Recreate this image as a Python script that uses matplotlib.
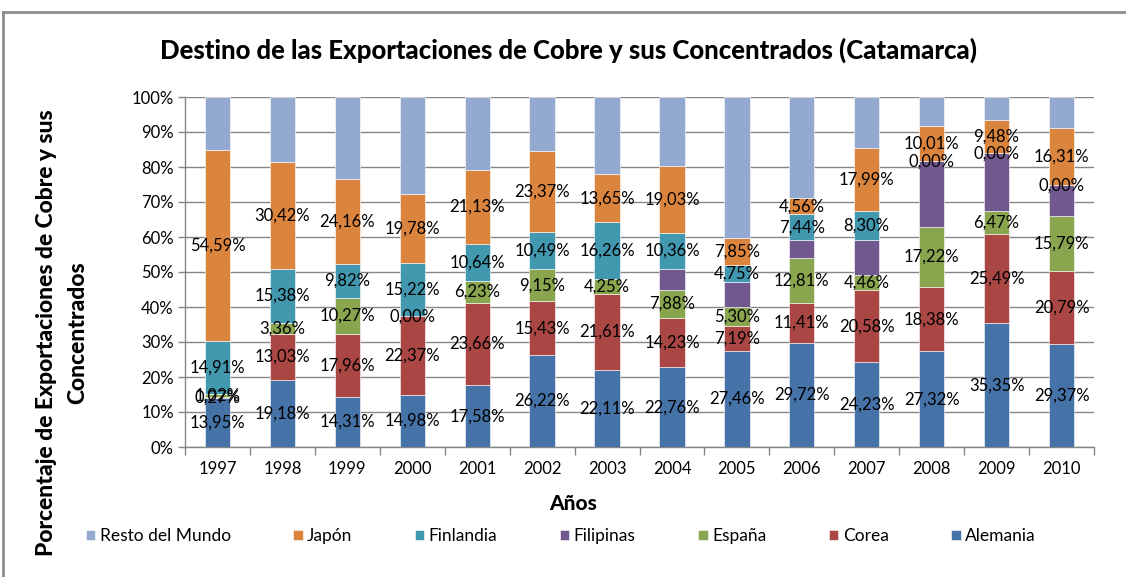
import numpy as np
import matplotlib
matplotlib.use("Agg")
import matplotlib.pyplot as plt
from matplotlib.lines import Line2D
from matplotlib.ticker import FuncFormatter

plt.rcParams['font.family'] = ['Lato', 'DejaVu Sans']

years = ["1997", "1998", "1999", "2000", "2001", "2002", "2003",
         "2004", "2005", "2006", "2007", "2008", "2009", "2010"]

# valores en % (Filipinas y Resto estimados, sin etiqueta en el original)
alemania = [13.95, 19.18, 14.31, 14.98, 17.58, 26.22, 22.11, 22.76, 27.46, 29.72, 24.23, 27.32, 35.35, 29.37]
corea = [0.27, 13.03, 17.96, 22.37, 23.66, 15.43, 21.61, 14.23, 7.19, 11.41, 20.58, 18.38, 25.49, 20.79]
espana = [1.02, 3.36, 10.27, 0.00, 6.23, 9.15, 4.25, 7.88, 5.30, 12.81, 4.46, 17.22, 6.47, 15.79]
filipinas = [0, 0, 0, 0, 0, 0, 0, 6.0, 7.2, 5.1, 9.9, 18.7, 16.6, 8.8]
finlandia = [14.91, 15.38, 9.82, 15.22, 10.64, 10.49, 16.26, 10.36, 4.75, 7.44, 8.30, 0.00, 0.00, 0.00]
japon = [54.59, 30.42, 24.16, 19.78, 21.13, 23.37, 13.65, 19.03, 7.85, 4.56, 17.99, 10.01, 9.48, 16.31]
resto = [15.26, 18.63, 23.48, 27.65, 20.76, 15.34, 22.12, 19.74, 40.25, 28.96, 14.54, 8.37, 6.61, 8.94]

series = [
    ("Alemania", alemania, "#4572A7", True),
    ("Corea", corea, "#AA4643", True),
    ("España", espana, "#89A54E", True),
    ("Filipinas", filipinas, "#71588F", False),
    ("Finlandia", finlandia, "#4198AF", True),
    ("Japón", japon, "#DB843D", True),
    ("Resto del Mundo", resto, "#93A9CF", False),
]

W, H = 1126, 577
fig = plt.figure(figsize=(W / 100, H / 100), dpi=100)
ax = fig.add_axes([185 / W, 1 - 447 / H, 909 / W, 350 / H])

x = np.arange(len(years))
bottom = np.zeros(len(years))
handles = {}
for name, vals, col, lab in series:
    vals = np.array(vals, dtype=float)
    bars = ax.bar(x, vals, 0.39, bottom=bottom, color=col, edgecolor="white",
                  linewidth=0.4, zorder=3, label=name)
    handles[name] = bars
    if lab:
        txt = [("%.2f%%" % v).replace(".", ",") for v in vals]
        ax.bar_label(bars, labels=txt, label_type="center", fontsize=12,
                     color="black", zorder=5)
    bottom += vals

ax.set_xlim(-0.5, len(years) - 0.5)
ax.set_ylim(0, 100)
ax.set_yticks(np.arange(0, 101, 10))
ax.yaxis.set_major_formatter(FuncFormatter(lambda v, p: "%d%%" % v))
ax.set_xticks(x)
ax.set_xticklabels(years)
ax.set_xticks(np.arange(-0.5, len(years), 1), minor=True)
ax.tick_params(axis="x", which="major", length=0, pad=10, labelsize=12)
ax.tick_params(axis="x", which="minor", length=6, color="#868686", width=1)
ax.tick_params(axis="y", length=5, color="#868686", width=1, labelsize=12, pad=3)
ax.grid(axis="y", color="#868686", linewidth=1, zorder=0)
for s in ["top", "right"]:
    ax.spines[s].set_visible(False)
for s in ["left", "bottom"]:
    ax.spines[s].set_color("#868686")
    ax.spines[s].set_linewidth(1)

fig.text(568 / W, 1 - 50 / H, "Destino de las Exportaciones de Cobre y sus Concentrados (Catamarca)",
         ha="center", va="center", fontsize=18.5, fontweight="black")
fig.text(573 / W, 1 - 503 / H, "Años", ha="center", va="center", fontsize=15, fontweight="black")
fig.text(62 / W, 1 - 333 / H, "Porcentaje de Exportaciones de Cobre y sus\nConcentrados",
         ha="center", va="center", rotation=90, fontsize=16.5, fontweight="black",
         multialignment="center", linespacing=1.6)

order = ["Resto del Mundo", "Japón", "Finlandia", "Filipinas", "España", "Corea", "Alemania"]
leg = fig.legend([handles[n] for n in order], order, loc="center left",
                 bbox_to_anchor=(70 / W, 1 - 536 / H), ncol=7, frameon=False,
                 fontsize=12.5, handlelength=0.55, handleheight=0.55, handletextpad=0.25,
                 columnspacing=3.6)

# marco del gráfico
fig.add_artist(Line2D([3 / W, 3 / W], [0, 1 - 12 / H], color="#8c8c8c", linewidth=2))
fig.add_artist(Line2D([3 / W, 1], [1 - 12 / H, 1 - 12 / H], color="#8c8c8c", linewidth=2))

fig.savefig("out.png", dpi=100)
